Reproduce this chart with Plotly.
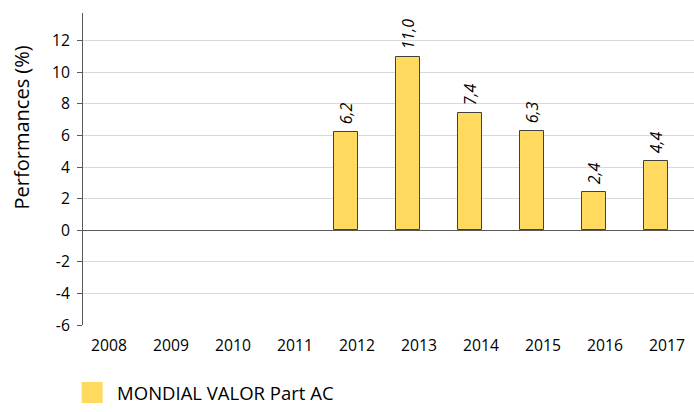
import plotly.graph_objects as go

years = ["2008", "2009", "2010", "2011", "2012", "2013", "2014", "2015", "2016", "2017"]
values = [None, None, None, None, 6.2, 11.0, 7.4, 6.3, 2.4, 4.4]
labels = ["", "", "", "", "6,2", "11,0", "7,4", "6,3", "2,4", "4,4"]
series_name = "MONDIAL VALOR Part AC"
y_title = "Performances (%)"
y_ticks = [-6, -4, -2, 0, 2, 4, 6, 8, 10, 12]
y_tick_text = ["-6", "-4", "-2", "0", "2", "4", "6", "8", "10", "12"]

FILL = "#FFDA5E"
EDGE = "#404040"
FONT = "Open Sans"

W, H = 694, 412
ML, MT, MB = 83, 13, 80
PW, PH = W - ML, H - MT - MB

fig = go.Figure()
fig.add_trace(go.Bar(
    x=years, y=values, text=["\u00a0" + t if t else "" for t in labels],
    width=0.39, offset=-0.37,
    marker=dict(color=FILL, line=dict(color=EDGE, width=1)),
    textposition="outside", textangle=-90, constraintext="none",
    textfont=dict(family=FONT, size=16, color="#000000", style="italic"),
    cliponaxis=False, showlegend=False,
))
fig.add_trace(go.Scatter(
    x=[None], y=[None], mode="markers", name=series_name,
    marker=dict(symbol="square", size=16, color=FILL, line=dict(color=FILL, width=5)),
    showlegend=True,
))

fig.add_annotation(
    text=y_title, textangle=-90, showarrow=False,
    xref="paper", yref="paper", x=(21 - ML) / PW, y=(PH + MT - 130) / PH,
    xanchor="center", yanchor="middle",
    font=dict(family=FONT, size=20, color="#000000"),
)

fig.update_layout(
    width=W, height=H,
    margin=dict(l=ML, r=0, t=MT, b=MB),
    plot_bgcolor="white", paper_bgcolor="white",
    font=dict(family=FONT, size=15.7, color="#000000"),
    bargap=0,
    legend=dict(orientation="h", x=-0.026, xanchor="left", y=-0.218, yanchor="middle",
                font=dict(family=FONT, size=18.5), itemsizing="trace", itemwidth=40),
    xaxis=dict(
        type="category", range=[-0.42, 9.435], automargin=False,
        showgrid=False, showline=False, ticks="", tickfont=dict(size=15.7),
        ticklabelstandoff=9,
    ),
    yaxis=dict(
        range=[-6, 13.76], tickvals=y_ticks, ticktext=y_tick_text, automargin=False,
        showgrid=True, gridcolor="#D9D9D9", gridwidth=1,
        zeroline=True, zerolinecolor="#595959", zerolinewidth=1,
        showline=True, linecolor="#595959", linewidth=1,
        ticks="outside", ticklen=5, tickcolor="#595959",
        tickfont=dict(size=15.7), ticklabelstandoff=4,
    ),
)

fig.write_html("out.html", config={"displayModeBar": False},
               post_script="document.body.style.margin='0';")
